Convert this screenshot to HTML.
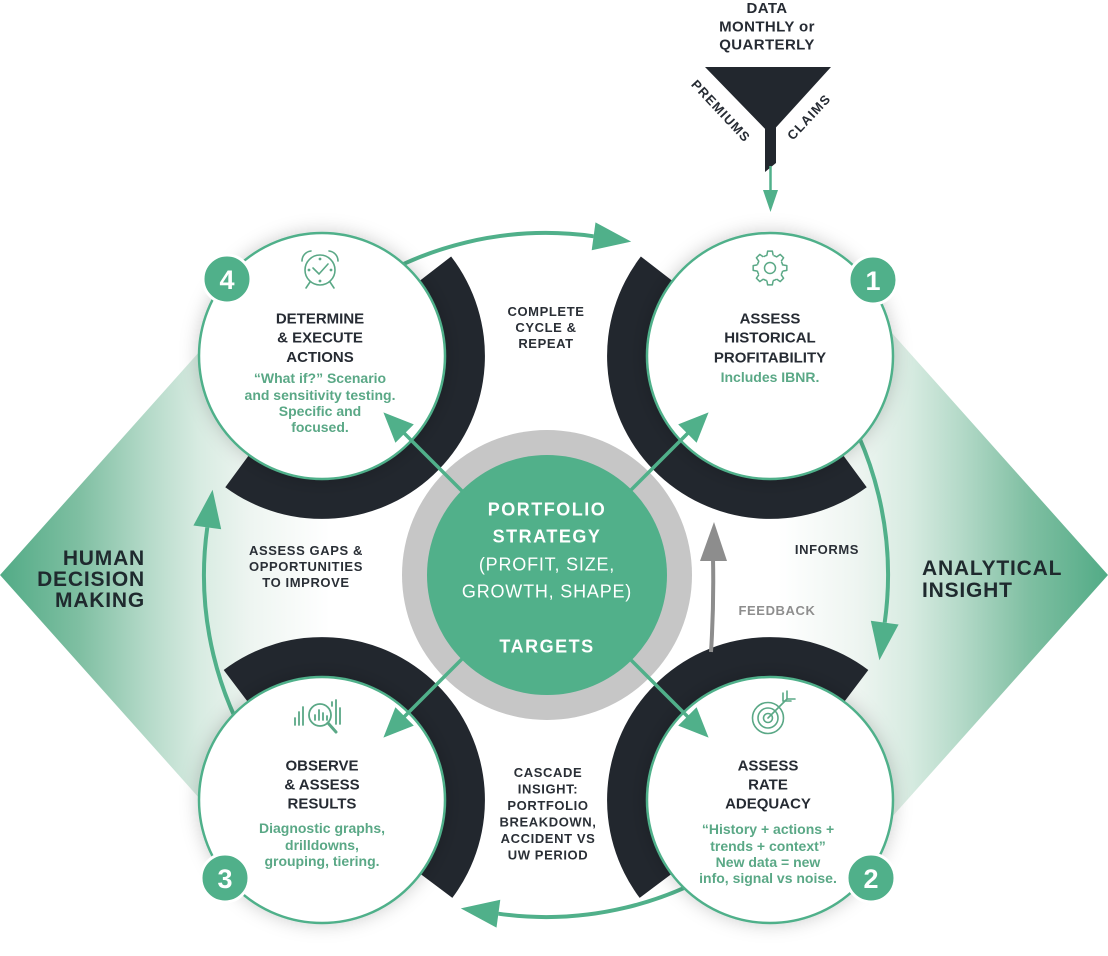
<!DOCTYPE html>
<html><head><meta charset="utf-8">
<style>
html,body{margin:0;padding:0;background:#fff;}
svg{display:block;}
text{font-family:"Liberation Sans",Arial,sans-serif;}
.t{font-size:15px;font-weight:bold;fill:#262b33;text-anchor:middle;}
.s{font-size:14px;font-weight:bold;fill:#5aa886;text-anchor:middle;}
.m{font-size:13px;font-weight:bold;fill:#2a2f36;text-anchor:middle;letter-spacing:0.6px;}
.c{font-size:18px;fill:#ffffff;text-anchor:middle;}
.side{font-size:21px;font-weight:bold;fill:#1f2a2e;letter-spacing:0.8px;}
.num{font-size:27px;font-weight:bold;fill:#ffffff;text-anchor:middle;}
</style></head><body>
<svg width="1108" height="956" viewBox="0 0 1108 956" xmlns="http://www.w3.org/2000/svg">
<defs>
<linearGradient id="gl" x1="0" y1="0" x2="330" y2="0" gradientUnits="userSpaceOnUse">
 <stop offset="0" stop-color="#52ab86"/>
 <stop offset="0.24" stop-color="#7fbfa2"/>
 <stop offset="0.45" stop-color="#b5dac9"/>
 <stop offset="0.6" stop-color="#d7ebe1"/>
 <stop offset="0.76" stop-color="#eef5f1"/>
 <stop offset="1" stop-color="#ffffff"/>
</linearGradient>
<linearGradient id="gr" x1="1108" y1="0" x2="778" y2="0" gradientUnits="userSpaceOnUse">
 <stop offset="0" stop-color="#52ab86"/>
 <stop offset="0.24" stop-color="#7fbfa2"/>
 <stop offset="0.45" stop-color="#b5dac9"/>
 <stop offset="0.6" stop-color="#d7ebe1"/>
 <stop offset="0.76" stop-color="#eef5f1"/>
 <stop offset="1" stop-color="#ffffff"/>
</linearGradient>
<filter id="sh" x="-30%" y="-30%" width="160%" height="160%">
 <feDropShadow dx="0" dy="0" stdDeviation="9" flood-color="#000" flood-opacity="0.2"/>
</filter>
<g id="arw">
 <path d="M349.8,294.8 A342,342 0 0 1 593.6,236.3" fill="none" stroke="#50b08a" stroke-width="4"/>
 <polygon points="631.2,241.6 595.5,222.4 591.7,250.2" fill="#50b08a"/>
</g>
<g id="darw">
 <line x1="629.4" y1="491.6" x2="690" y2="431" stroke="#50b08a" stroke-width="3.5"/>
 <polygon points="708.6,412.4 696.6,442.8 678.2,424.4" fill="#50b08a"/>
</g>
<path id="ring" d="M22.69,-161.4 A163,163 0 0 1 22.69,161.4 L17.12,121.8 A123,123 0 0 0 17.12,-121.8 Z" fill="#22272e"/>
</defs>

<!-- background diamonds -->
<polygon points="0,575 250,295 330,295 330,855 250,855" fill="url(#gl)"/>
<polygon points="1108,575 858,295 778,295 778,855 858,855" fill="url(#gr)"/>

<!-- big cycle arrows -->
<use href="#arw"/>
<use href="#arw" transform="rotate(90 546 575)"/>
<use href="#arw" transform="rotate(180 546 575)"/>
<use href="#arw" transform="rotate(270 546 575)"/>

<!-- black rings -->
<use href="#ring" transform="translate(322,356) rotate(44.4)"/>
<use href="#ring" transform="translate(770,356) rotate(135.6)"/>
<use href="#ring" transform="translate(322,800) rotate(-45.1)"/>
<use href="#ring" transform="translate(770,800) rotate(-134.9)"/>

<!-- white circles -->
<g fill="#ffffff" stroke="#50b08a" stroke-width="2.5" filter="url(#sh)">
 <circle cx="322" cy="356" r="123"/>
 <circle cx="770" cy="356" r="123"/>
 <circle cx="322" cy="800" r="123"/>
 <circle cx="770" cy="800" r="123"/>
</g>

<!-- center -->
<circle cx="547" cy="575" r="145" fill="#c6c6c6"/>
<circle cx="547" cy="575" r="120" fill="#51b08a"/>

<!-- diagonal arrows -->
<use href="#darw"/>
<use href="#darw" transform="rotate(90 546 575)"/>
<use href="#darw" transform="rotate(180 546 575)"/>
<use href="#darw" transform="rotate(270 546 575)"/>

<!-- feedback arrow -->
<path d="M711,652 Q714,605 713,558" fill="none" stroke="#8d8d8d" stroke-width="4"/>
<polygon points="714,522 700,561 727,561" fill="#8d8d8d"/>

<!-- badges -->
<g fill="#50b08a" stroke="#ffffff" stroke-width="3">
 <circle cx="227" cy="279" r="24"/>
 <circle cx="873" cy="280" r="24"/>
 <circle cx="225" cy="878" r="24"/>
 <circle cx="871" cy="878" r="24"/>
</g>
<text class="num" x="227" y="289">4</text>
<text class="num" x="873" y="290">1</text>
<text class="num" x="225" y="888">3</text>
<text class="num" x="871" y="888">2</text>

<!-- funnel -->
<polygon points="705,67 831,67 770,134" fill="#22272e"/>
<polygon points="765,118 776,118 776,163 765,172" fill="#22272e"/>
<line x1="770.5" y1="166" x2="770.5" y2="194" stroke="#50b08a" stroke-width="2.5"/>
<polygon points="770.5,212 763,190 778,190" fill="#50b08a"/>
<text x="767" y="13" style="font-size:15px;font-weight:bold;fill:#262b33;text-anchor:middle;letter-spacing:0.4px">DATA</text>
<text x="767" y="31.5" style="font-size:15px;font-weight:bold;fill:#262b33;text-anchor:middle;letter-spacing:0.4px">MONTHLY or</text>
<text x="767" y="49.5" style="font-size:15px;font-weight:bold;fill:#262b33;text-anchor:middle;letter-spacing:0.4px">QUARTERLY</text>
<text transform="translate(721,111) rotate(47)" x="0" y="4.5" style="font-size:13px;font-weight:bold;fill:#262b33;text-anchor:middle;letter-spacing:1.2px">PREMIUMS</text>
<text transform="translate(809,117) rotate(-47)" x="0" y="4.5" style="font-size:13px;font-weight:bold;fill:#262b33;text-anchor:middle;letter-spacing:1.2px">CLAIMS</text>

<!-- side labels -->
<text class="side" x="145" y="565" text-anchor="end">HUMAN</text>
<text class="side" x="145" y="586" text-anchor="end">DECISION</text>
<text class="side" x="145" y="607" text-anchor="end">MAKING</text>
<text class="side" x="922" y="575">ANALYTICAL</text>
<text class="side" x="922" y="597">INSIGHT</text>

<!-- middle labels -->
<text class="m" x="546" y="316">COMPLETE</text>
<text class="m" x="546" y="332">CYCLE &amp;</text>
<text class="m" x="546" y="348">REPEAT</text>

<text class="m" x="306" y="555">ASSESS GAPS &amp;</text>
<text class="m" x="306" y="571">OPPORTUNITIES</text>
<text class="m" x="306" y="587">TO IMPROVE</text>

<text class="m" x="827" y="554">INFORMS</text>
<text class="m" x="777" y="615" style="fill:#8e8e8e">FEEDBACK</text>

<text class="m" x="548" y="777">CASCADE</text>
<text class="m" x="548" y="793.5">INSIGHT:</text>
<text class="m" x="548" y="810">PORTFOLIO</text>
<text class="m" x="548" y="826.5">BREAKDOWN,</text>
<text class="m" x="548" y="843">ACCIDENT VS</text>
<text class="m" x="548" y="859.5">UW PERIOD</text>

<!-- center text -->
<text class="c" x="547" y="515.5" style="font-weight:bold;letter-spacing:1.5px">PORTFOLIO</text>
<text class="c" x="547" y="542.5" style="font-weight:bold;letter-spacing:1.5px">STRATEGY</text>
<text class="c" x="547" y="570.5" style="letter-spacing:0.8px">(PROFIT, SIZE,</text>
<text class="c" x="547" y="597.5" style="letter-spacing:0.8px">GROWTH, SHAPE)</text>
<text class="c" x="547" y="652.5" style="font-weight:bold;letter-spacing:1.5px">TARGETS</text>

<!-- circle 4 -->
<g transform="translate(320,270)" fill="none" stroke="#5aa886" stroke-width="1.6" stroke-linecap="round">
 <circle r="15"/>
 <path d="M-7,-2 L-1,4 L8,-6"/>
 <path d="M-18,-9 A10,10 0 0 1 -9,-19"/>
 <path d="M18,-9 A10,10 0 0 0 9,-19"/>
 <path d="M-10,12 L-14,18 M10,12 L14,18"/>
 <circle cx="0" cy="-11" r="0.6"/><circle cx="0" cy="11" r="0.6"/>
 <circle cx="-11" cy="0" r="0.6"/><circle cx="11" cy="0" r="0.6"/>
</g>
<text class="t" x="320" y="323.5">DETERMINE</text>
<text class="t" x="320" y="342.5">&amp; EXECUTE</text>
<text class="t" x="320" y="362">ACTIONS</text>
<text class="s" x="320" y="383">“What if?” Scenario</text>
<text class="s" x="320" y="400">and sensitivity testing.</text>
<text class="s" x="320" y="416">Specific and</text>
<text class="s" x="320" y="432">focused.</text>

<!-- circle 1 -->
<g transform="translate(770,268)" fill="none" stroke="#5aa886" stroke-width="1.5" stroke-linejoin="round">
 <circle r="13" stroke-dasharray="3.86 6.35" stroke-dashoffset="-3.175"/>
 <path d="M12.61,-3.15 L16.83,-2.37 L16.83,2.37 L12.61,3.15"/>
 <path d="M12.61,-3.15 L16.83,-2.37 L16.83,2.37 L12.61,3.15" transform="rotate(45)"/>
 <path d="M12.61,-3.15 L16.83,-2.37 L16.83,2.37 L12.61,3.15" transform="rotate(90)"/>
 <path d="M12.61,-3.15 L16.83,-2.37 L16.83,2.37 L12.61,3.15" transform="rotate(135)"/>
 <path d="M12.61,-3.15 L16.83,-2.37 L16.83,2.37 L12.61,3.15" transform="rotate(180)"/>
 <path d="M12.61,-3.15 L16.83,-2.37 L16.83,2.37 L12.61,3.15" transform="rotate(225)"/>
 <path d="M12.61,-3.15 L16.83,-2.37 L16.83,2.37 L12.61,3.15" transform="rotate(270)"/>
 <path d="M12.61,-3.15 L16.83,-2.37 L16.83,2.37 L12.61,3.15" transform="rotate(315)"/>
 <circle r="5.5"/>
</g>
<text class="t" x="770" y="323.5">ASSESS</text>
<text class="t" x="770" y="342.5">HISTORICAL</text>
<text class="t" x="770" y="362.5">PROFITABILITY</text>
<text class="s" x="770" y="382">Includes IBNR.</text>

<!-- circle 3 -->
<g transform="translate(322,716)" fill="none" stroke="#5aa886" stroke-width="1.8" stroke-linecap="round">
 <path d="M-27,9 V2 M-23,9 V-4 M-19,9 V-9"/>
 <circle cx="-2" cy="-1" r="11"/>
 <path d="M6,7 L14,16" stroke-width="3"/>
 <path d="M-7,4 V-1 M-3,4 V-6 M1,4 V-3 M5,4 V0"/>
 <path d="M10,-14 V-10 M14,8 V-16 M18,8 V-8"/>
</g>
<text class="t" x="322" y="770.5">OBSERVE</text>
<text class="t" x="322" y="789.5">&amp; ASSESS</text>
<text class="t" x="322" y="808.5">RESULTS</text>
<text class="s" x="322" y="833">Diagnostic graphs,</text>
<text class="s" x="322" y="850">drilldowns,</text>
<text class="s" x="322" y="866">grouping, tiering.</text>

<!-- circle 2 -->
<g transform="translate(768,718)" fill="none" stroke="#5aa886" stroke-width="1.6" stroke-linecap="round">
 <circle r="15.5"/>
 <circle r="10"/>
 <circle r="4.5"/>
 <path d="M0,0 L19,-19"/>
 <path d="M15,-25 L15,-17 L23,-17 M19,-27 L19,-19 L27,-19"/>
</g>
<text class="t" x="768" y="770.5">ASSESS</text>
<text class="t" x="768" y="789.5">RATE</text>
<text class="t" x="768" y="808.5">ADEQUACY</text>
<text class="s" x="768" y="834">“History + actions +</text>
<text class="s" x="768" y="851">trends + context”</text>
<text class="s" x="768" y="867">New data = new</text>
<text class="s" x="768" y="883">info, signal vs noise.</text>
</svg>
</body></html>
